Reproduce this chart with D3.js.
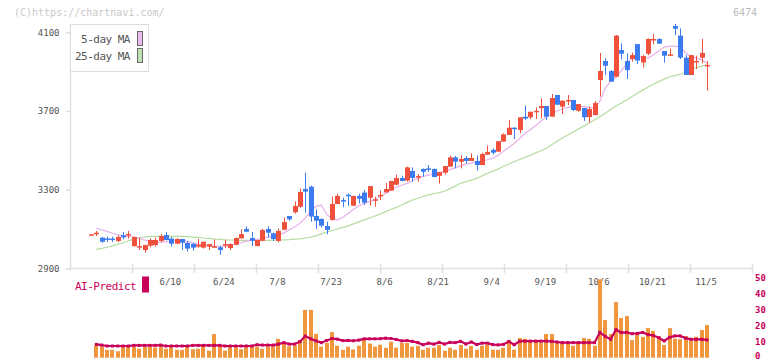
<!DOCTYPE html>
<html>
<head>
<meta charset="utf-8">
<script src="https://cdn.jsdelivr.net/npm/d3@7"></script>
<style>
  body { margin: 0; background: #fff; }
  svg text { font-family: "DejaVu Sans Mono", monospace; }
</style>
</head>
<body>
<svg id="chart" width="772" height="361"></svg>
<script>
// daily candles, index 0 = 5/20 ... index 115 = 11/5
var open  = [3073,3078,3056,3052,3051,3039,3068,3072,3013,3012, 2993,3015,3018,3039,3069,3051,3025,3049,3029,3025,
             3010,3005,3010,3005,3007,3020,3003,3020,3052,3100, 3054,3013,3040,3100,3078,3039,3096,3166,3185,3213,
             3303,3315,3166,3151,3115,3146,3227,3247,3274,3218, 3268,3285,3259,3250,3272,3286,3295,3325,3359,3346,
             3395,3368,3405,3408,3405,3370,3386,3417,3464,3442, 3461,3446,3446,3425,3478,3502,3493,3544,3578,3615,
             3603,3671,3668,3700,3715,3725,3671,3781,3722,3755, 3756,3701,3715,3669,3679,3857,3954,3903,3874,4010,
             3954,3964,4040,3946,3991,4065,4066,4005,3987,4132, 4083,3971,3883,3953,3971,3933];
var high  = [3075,3090,3058,3062,3061,3068,3084,3090,3062,3054, 3020,3052,3056,3074,3084,3059,3054,3049,3040,3027,
             3049,3035,3023,3047,3013,3045,3027,3057,3098,3113, 3084,3044,3100,3113,3081,3103,3159,3166,3240,3306,
             3386,3320,3200,3154,3137,3264,3278,3259,3281,3268, 3279,3298,3318,3264,3295,3334,3344,3376,3371,3417,
             3413,3379,3408,3425,3408,3390,3420,3473,3471,3476, 3471,3485,3473,3488,3524,3510,3546,3586,3654,3617,
             3668,3727,3696,3718,3764,3725,3786,3781,3756,3781, 3756,3735,3715,3722,3751,3995,3968,3908,4086,4044,
             3993,3996,4040,3984,4069,4091,4069,4005,4018,4142, 4120,3984,3984,3981,4066,3954];
var low   = [3071,3064,3030,3034,3034,3032,3047,3051,3010,2993, 2979,3007,3010,3034,3042,3010,3023,2993,2985,2990,
             3005,3000,2993,3003,2968,3003,2993,3017,3052,3084, 3013,3013,3037,3057,3039,3032,3094,3142,3178,3208,
             3183,3137,3100,3108,3073,3142,3227,3210,3217,3217, 3230,3222,3218,3213,3247,3285,3295,3322,3342,3342,
             3340,3340,3366,3390,3363,3330,3376,3417,3408,3408, 3432,3446,3396,3425,3476,3478,3491,3544,3578,3557,
             3586,3654,3659,3659,3662,3654,3671,3730,3684,3730, 3700,3696,3649,3640,3679,3773,3883,3849,3874,3962,
             3862,3951,3939,3920,3984,4039,4042,3946,3981,4086, 3964,3883,3883,3913,3942,3803];
var close = [3073,3081,3035,3049,3049,3059,3057,3074,3059,3013, 3018,3044,3044,3064,3044,3025,3049,3030,3000,3005,
             3020,3035,3023,3012,2993,3023,3023,3054,3074,3086, 3040,3044,3095,3081,3049,3090,3135,3149,3217,3288,
             3290,3163,3142,3117,3095,3227,3268,3239,3266,3268, 3254,3234,3318,3251,3273,3303,3344,3359,3344,3413,
             3359,3369,3391,3405,3364,3389,3420,3464,3442,3456, 3446,3461,3425,3481,3491,3488,3546,3581,3615,3608,
             3668,3661,3696,3701,3725,3671,3766,3732,3752,3756, 3705,3735,3668,3710,3740,3903,3930,3849,4083,3991,
             3908,3984,3956,3979,4066,4066,4042,3981,3988,4118, 3971,3883,3984,3954,3995,3934];

// moving averages, from index 1
var ma5  = [3103,3096,3088,3078,3070,3066,3062,3058,3052,3044, 3036,3033,3032,3036,3040,3044,3042,3036,3030,3023,
            3018,3015,3013,3012,3013,3018,3023,3030,3038,3043, 3047,3052,3057,3062,3069,3080,3095,3110,3129,3155,
            3190,3215,3222,3175,3150,3146,3158,3179,3200,3217, 3230,3239,3250,3264,3282,3298,3312,3322,3332,3345,
            3357,3367,3374,3380,3386,3393,3402,3412,3422,3430, 3436,3440,3445,3452,3460,3475,3495,3515,3535,3560,
            3585,3605,3625,3648,3671,3688,3700,3710,3718,3722, 3725,3722,3718,3714,3750,3815,3850,3870,3905,3940,
            3972,3985,3968,3970,3985,4005,4025,4030,4030,4025, 3995,3978,3970,3960,3942];
var ma25 = [2996,3001,3007,3014,3022,3030,3040,3048,3055,3059, 3062,3062,3062,3062,3062,3062,3062,3061,3059,3057,
            3054,3052,3049,3047,3045,3044,3043,3042,3042,3042, 3042,3042,3042,3043,3044,3045,3046,3048,3050,3054,
            3058,3066,3075,3084,3092,3100,3108,3116,3126,3136, 3146,3156,3166,3176,3188,3199,3210,3222,3235,3247,
            3256,3265,3273,3279,3285,3292,3305,3318,3332,3340, 3348,3357,3370,3383,3394,3405,3418,3430,3442,3453,
            3464,3475,3487,3498,3510,3528,3546,3563,3578,3593, 3608,3623,3639,3655,3671,3689,3707,3725,3740,3756,
            3773,3790,3806,3822,3836,3849,3862,3874,3880,3887, 3898,3910,3920,3928,3934];

// AI-Predict panel, from index 1
var aiBars = [7.8,6.9,4.9,4.9,4.0,6.6,6.9,6.9,5.6,6.9, 6.9,6.4,7.2,5.6,6.6,4.9,4.9,6.6,5.3,5.6,
              7.3,4.4,14.8,7.1,4.4,6.6,6.6,5.3,6.6,7.2, 6.9,5.6,6.9,7.1,11.8,9.4,7.1,7.5,11.1,29.9,
              29.9,14.9,6.9,9.3,16.0,7.5,4.9,6.9,5.2,7.5, 11.9,8.8,6.9,8.1,6.2,10.0,6.3,9.2,9.2,6.9,
              7.4,5.0,6.2,6.2,7.9,4.3,6.2,5.0,8.0,5.6, 7.4,5.0,7.4,8.0,5.0,5.0,6.2,11.1,5.0,12.3,
              11.8,10.7,10.7,9.4,14.8,14.8,9.4,9.7,9.7,7.4, 9.7,12.3,11.8,7.4,49.0,23.5,14.8,34.8,24.8,26.0,
              11.0,14.5,13.0,18.5,16.8,13.3,7.9,18.5,11.9,11.6, 13.5,10.6,13.1,17.3,20.4];
var aiLine = [8.3,7.9,7.3,7.3,7.3,7.3,7.3,7.7,7.7,7.7, 7.7,7.7,7.9,7.3,7.3,7.3,7.3,7.3,7.7,7.7,
              7.7,7.7,7.7,7.7,7.3,7.3,7.3,7.3,7.3,7.3, 8.1,7.9,7.9,7.9,8.5,9.4,8.5,8.5,10.0,13.5,
              11.8,10.5,9.4,10.8,12.0,11.6,10.7,10.8,10.6,11.0, 11.8,11.8,11.8,11.9,12.2,12.0,11.4,10.5,10.7,10.2,
              9.4,8.1,9.1,8.5,9.6,8.5,9.6,9.4,10.2,8.5, 9.8,8.2,9.1,9.1,8.2,8.0,8.3,10.1,8.1,10.3,
              10.4,10.4,10.4,10.4,10.4,10.2,9.8,9.4,9.4,9.4, 9.4,9.4,9.4,9.4,15.8,13.3,11.5,17.5,15.7,15.8,
              15.0,15.2,15.8,14.4,13.9,12.5,10.5,12.7,13.6,13.6, 12.2,11.5,11.5,11.5,11.1];

var xLabels   = ['6/10','6/24','7/8','7/23','8/6','8/21','9/4','9/19','10/6','10/21','11/5'];
var xLabelIdx = [15,25,35,45,55,65,75,85,95,105,115];
var priceTicks = [2900,3300,3700,4100];
var aiTicks = [0,10,20,30,40,50];

var RED = '#f0503c', BLUE = '#3c7cf0', PINK = '#e8b0e8', GREEN = '#b4dca0',
    CRIMSON = '#c8005a', ORANGE = '#f0963c', FRAME = '#e0e0e0';

var svg = d3.select('#chart');
var x = d3.scaleLinear().domain([0, 115]).range([91, 707]),
    y = d3.scaleLinear().domain([2900, 4100]).range([268.3, 32.3]),
    yv = d3.scaleLinear().domain([0, 50]).range([357.7, 277.7]),
    grid = d3.scaleLinear().domain([0, 11]).range([70, 752]);

// watermark + code
svg.append('text').attr('x', 14).attr('y', 16).attr('font-size', 10)
  .attr('fill', '#c8c8c8').text('(C)https://chartnavi.com/');
svg.append('text').attr('x', 757).attr('y', 16).attr('font-size', 10)
  .attr('text-anchor', 'end').attr('fill', '#bbb').text('6474');

// frame
svg.append('line').attr('x1', 70.5).attr('x2', 70.5).attr('y1', 24).attr('y2', 271)
  .attr('stroke', FRAME).attr('stroke-width', 1.5);
svg.append('line').attr('x1', 70).attr('x2', 752).attr('y1', 268.5).attr('y2', 268.5)
  .attr('stroke', FRAME).attr('stroke-width', 1.5);
svg.append('g').selectAll('line').data(d3.range(1, 12)).enter().append('line')
  .attr('x1', function(d) { return Math.round(grid(d)) + 0.5; })
  .attr('x2', function(d) { return Math.round(grid(d)) + 0.5; })
  .attr('y1', 264).attr('y2', 273)
  .attr('stroke', FRAME).attr('stroke-width', 1.5);

// left axis
var yAxis = svg.append('g').attr('transform', 'translate(70.5,0)')
  .call(d3.axisLeft(y).tickValues(priceTicks).tickFormat(d3.format('d'))
    .tickSize(5).tickPadding(6));
yAxis.select('.domain').remove();
yAxis.selectAll('line').attr('stroke', FRAME).attr('stroke-width', 1.5);
yAxis.selectAll('text').attr('font-size', 9).attr('fill', '#555')
  .attr('font-family', '"DejaVu Sans Mono", monospace');

// date labels
svg.append('g').selectAll('text').data(xLabels).enter().append('text')
  .attr('x', function(d, i) { return x(xLabelIdx[i]) - 1; })
  .attr('y', 285).attr('text-anchor', 'middle')
  .attr('font-size', 9).attr('fill', '#555').text(function(d) { return d; });

// moving averages
var maLine = d3.line()
  .x(function(d, i) { return x(i + 1); })
  .y(function(d) { return y(d); });
svg.append('path').datum(ma25).attr('d', maLine)
  .attr('fill', 'none').attr('stroke', GREEN).attr('stroke-width', 1.2);
svg.append('path').datum(ma5).attr('d', maLine)
  .attr('fill', 'none').attr('stroke', PINK).attr('stroke-width', 1.2);

// candles
var candles = svg.append('g').selectAll('g').data(open).enter().append('g');
candles.append('line')
  .attr('x1', function(d, i) { return Math.round(x(i)) + 0.5; })
  .attr('x2', function(d, i) { return Math.round(x(i)) + 0.5; })
  .attr('y1', function(d, i) { return y(high[i]); })
  .attr('y2', function(d, i) { return y(low[i]); })
  .attr('stroke', function(d, i) { return close[i] >= open[i] ? RED : BLUE; });
candles.append('rect')
  .attr('x', function(d, i) { return Math.round(x(i)) - 2; })
  .attr('width', 5)
  .attr('y', function(d, i) { return y(Math.max(open[i], close[i])); })
  .attr('height', function(d, i) { return Math.max(1.5, Math.abs(y(open[i]) - y(close[i]))); })
  .attr('fill', function(d, i) { return close[i] >= open[i] ? RED : BLUE; });

// legend
svg.append('rect').attr('x', 70.5).attr('y', 24.5).attr('width', 78).attr('height', 47)
  .attr('fill', '#fff').attr('stroke', '#ddd');
[['5-day MA', '#eebbee', 31.5], ['25-day MA', '#bfe0b0', 48.5]].forEach(function(l) {
  svg.append('text').attr('x', 130).attr('y', l[2] + 11).attr('text-anchor', 'end')
    .attr('font-size', 11).attr('letter-spacing', -0.5).attr('fill', '#555').text(l[0]);
  svg.append('rect').attr('x', 137.5).attr('y', l[2]).attr('width', 5).attr('height', 14)
    .attr('fill', l[1]).attr('stroke', '#666');
});

// AI-Predict panel
svg.append('text').attr('x', 75).attr('y', 290).attr('font-size', 11)
  .attr('letter-spacing', -0.5).attr('fill', CRIMSON).text('AI-Predict');
svg.append('rect').attr('x', 142).attr('y', 276.5).attr('width', 7).attr('height', 16)
  .attr('fill', CRIMSON);

svg.append('g').selectAll('rect').data(aiBars).enter().append('rect')
  .attr('x', function(d, i) { return Math.round(x(i + 1)) - 2; })
  .attr('width', 4)
  .attr('y', function(d) { return yv(d); })
  .attr('height', function(d) { return yv(0) - yv(d); })
  .attr('fill', ORANGE);

var aiPath = d3.line()
  .x(function(d, i) { return x(i + 1); })
  .y(function(d) { return yv(d); });
svg.append('path').datum(aiLine).attr('d', aiPath)
  .attr('fill', 'none').attr('stroke', CRIMSON).attr('stroke-width', 2.2);
svg.append('g').selectAll('rect').data(aiLine).enter().append('rect')
  .attr('x', function(d, i) { return x(i + 1) - 1.5; })
  .attr('y', function(d) { return yv(d) - 1.5; })
  .attr('width', 3).attr('height', 3).attr('fill', CRIMSON);

svg.append('g').selectAll('text').data(aiTicks).enter().append('text')
  .attr('x', 755).attr('y', function(d) { return Math.min(yv(d) + 3, 359); })
  .attr('font-size', 9).attr('font-weight', 'bold').attr('fill', CRIMSON)
  .text(function(d) { return d; });
</script>
</body>
</html>
